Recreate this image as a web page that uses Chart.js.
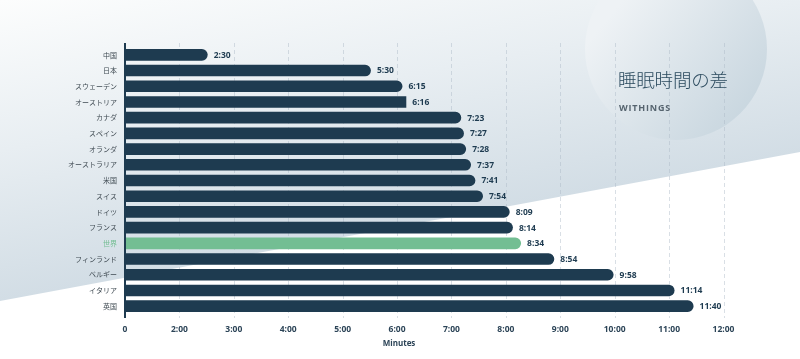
<!DOCTYPE html>
<html>
<head>
<meta charset="utf-8">
<script src="https://cdn.jsdelivr.net/npm/chart.js@4/dist/chart.umd.min.js"></script>
<style>
  html, body { margin: 0; padding: 0; background: #fff; }
  #wrap { position: relative; width: 800px; height: 359px; overflow: hidden; }
  #c { position: absolute; left: 0; top: 0; }
  .t1 { position: absolute; left: 618px; top: 66px; font-family: "Noto Sans CJK JP", "Noto Sans", sans-serif; font-size: 18.5px; font-weight: 300; color: #2b4a5e; white-space: nowrap; letter-spacing: -0.2px; }
  .t2 { position: absolute; left: 619px; top: 101px; font-family: "Open Sans", "Noto Sans", sans-serif; font-size: 9px; font-weight: 700; color: #56646f; letter-spacing: 0.8px; white-space: nowrap; }
</style>
</head>
<body>
<div id="wrap">
  <canvas id="c" width="800" height="359"></canvas>
  <div class="t1">睡眠時間の差</div>
  <div class="t2">WITHINGS</div>
</div>
<script>
const categories = ['中国','日本','スウェーデン','オーストリア','カナダ','スペイン','オランダ','オーストラリア','米国','スイス','ドイツ','フランス','世界','フィンランド','ベルギー','イタリア','英国'];
const values = [2.52, 5.52, 6.10, 6.17, 7.18, 7.23, 7.27, 7.36, 7.44, 7.58, 8.07, 8.13, 8.28, 8.89, 9.98, 11.10, 11.45];
const valueLabels = ['2:30','5:30','6:15','6:16','7:23','7:27','7:28','7:37','7:41','7:54','8:09','8:14','8:34','8:54','9:58','11:14','11:40'];
const tickLabels = ['0','2:00','3:00','4:00','5:00','6:00','7:00','8:00','9:00','10:00','11:00','12:00'];
const highlight = '世界';
const axisTitle = 'Minutes';

const NAVY = '#1e3b50';
const GREEN = '#73be93';

const bgPlugin = {
  id: 'bg',
  beforeDraw(chart) {
    const ctx = chart.ctx;
    const W = chart.width, H = chart.height;
    ctx.save();
    ctx.fillStyle = '#ffffff';
    ctx.fillRect(0, 0, W, H);
    const g = ctx.createLinearGradient(0, 0, 54, 291);
    g.addColorStop(0, '#fcfdfd');
    g.addColorStop(0.5, '#e8eef2');
    g.addColorStop(1, '#d2dde5');
    ctx.fillStyle = g;
    ctx.beginPath();
    ctx.moveTo(0, 0);
    ctx.lineTo(W, 0);
    ctx.lineTo(W, 152);
    ctx.lineTo(0, 301);
    ctx.closePath();
    ctx.fill();
    const cg = ctx.createLinearGradient(615, 10, 745, 120);
    cg.addColorStop(0, '#eef2f5');
    cg.addColorStop(1, '#c8d6df');
    ctx.fillStyle = cg;
    ctx.beginPath();
    ctx.arc(676, 49, 91, 0, Math.PI * 2);
    ctx.fill();
    ctx.restore();
  },
  beforeDatasetsDraw(chart) {
    const ctx = chart.ctx;
    const xs = chart.scales.x;
    ctx.save();
    ctx.strokeStyle = 'rgba(170,185,198,0.45)';
    ctx.lineWidth = 1;
    ctx.setLineDash([4, 3]);
    xs.ticks.forEach((t, i) => {
      if (i === 0) return;
      const x = Math.round(xs.getPixelForValue(t.value)) + 0.5;
      ctx.beginPath();
      ctx.moveTo(x, 43);
      ctx.lineTo(x, 318);
      ctx.stroke();
    });
    ctx.restore();
  },
  afterDatasetsDraw(chart) {
    const ctx = chart.ctx;
    const xs = chart.scales.x;
    const meta = chart.getDatasetMeta(0);
    ctx.save();
    ctx.strokeStyle = NAVY;
    ctx.lineWidth = 2;
    const ax = xs.getPixelForValue(xs.min);
    ctx.beginPath();
    ctx.moveTo(ax, 43);
    ctx.lineTo(ax, 318);
    ctx.stroke();
    ctx.fillStyle = NAVY;
    ctx.font = '700 8.5px "Open Sans", sans-serif';
    ctx.textAlign = 'left';
    ctx.textBaseline = 'middle';
    meta.data.forEach((bar, i) => {
      ctx.fillText(valueLabels[i], bar.x + 6, bar.y + 0.5);
    });
    // axis title
    ctx.fillStyle = '#2c4457';
    ctx.font = '700 8px "Open Sans", sans-serif';
    ctx.textAlign = 'center';
    ctx.fillText(axisTitle, 399, 344);
    ctx.restore();
  }
};

new Chart(document.getElementById('c'), {
  type: 'bar',
  data: {
    labels: categories,
    datasets: [{
      data: values,
      base: 1,
      backgroundColor: categories.map(c => c === highlight ? GREEN : NAVY),
      borderRadius: ctx => (ctx.dataIndex === 3 ? 0 : 6),
      borderSkipped: 'start',
      barPercentage: 0.74,
      categoryPercentage: 1
    }]
  },
  options: {
    indexAxis: 'y',
    responsive: false,
    animation: false,
    devicePixelRatio: 1,
    layout: { padding: { top: 47, right: 76.5, bottom: 0, left: 0 } },
    plugins: { legend: { display: false }, tooltip: { enabled: false } },
    scales: {
      x: {
        type: 'linear',
        min: 1,
        max: 12,
        grid: { display: false, drawTicks: false },
        border: { display: false },
        ticks: {
          stepSize: 1,
          padding: 10,
          maxRotation: 0,
          color: '#2c4457',
          font: { family: '"Open Sans", sans-serif', size: 8.5, weight: '700' },
          callback: (v, i) => tickLabels[i]
        },
        afterFit: s => { s.height = 45; }
      },
      y: {
        grid: { display: false, drawTicks: false },
        border: { display: false },
        ticks: {
          padding: 8,
          color: ctx => (categories[ctx.index] === highlight ? GREEN : '#3f4a52'),
          font: { family: '"Noto Sans CJK JP", sans-serif', size: 7 },
          autoSkip: false
        },
        afterFit: s => { s.width = 125; }
      }
    }
  },
  plugins: [bgPlugin]
});
</script>
</body>
</html>
